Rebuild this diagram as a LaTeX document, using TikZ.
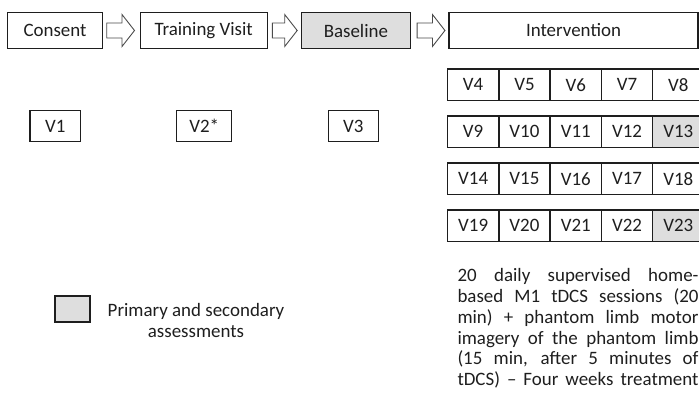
\documentclass[tikz,border=0pt]{standalone}
\usepackage{fontspec}
\setmainfont{Carlito}
\usetikzlibrary{calc}
\definecolor{assess}{RGB}{222,222,222}
\definecolor{ink}{RGB}{30,30,30}
\begin{document}
\begin{tikzpicture}[x=1bp,y=-1bp,
  every node/.style={font=\fontsize{19}{21}\selectfont, text=ink},
  phase/.style={draw=ink, line width=1.1bp, minimum height=35.6bp, inner sep=0pt},
  visit/.style={draw=ink, line width=1.1bp, minimum height=31bp, inner sep=0pt},
  cell/.style={draw=ink, line width=1.4bp, minimum width=51.3bp, minimum height=31.5bp, inner sep=0pt},
  shaded/.style={fill=assess},
  blockarrow/.style={draw=ink!80, line width=0.9bp, fill=white, line join=miter}
]
\useasboundingbox (0,0) rectangle (699,399);

% phase boxes
\node[phase, minimum width=95.4bp] (consent) at (55,30.5) {Consent};
\node[phase, minimum width=127.3bp] (training) at (203.7,30.5) {Training Visit};
\node[phase, shaded, minimum width=108.3bp] (baseline) at (355.9,30.5) {Baseline};
\node[phase, minimum width=249bp] (interv) at (573.5,30.5) {Intervention};

% block arrows
\newcommand\hollowarrow[2]{%
  \draw[blockarrow] ($(#1)+(0,-7.5)$) -- ($(#2)+(-12.5,-7.5)$) -- ($(#2)+(-12.5,-16)$)
    -- (#2) -- ($(#2)+(-12.5,16)$) -- ($(#2)+(-12.5,7.5)$) -- ($(#1)+(0,7.5)$) -- cycle;}
\coordinate (a1s) at ($(consent.east)+(3.5,0)$);
\coordinate (a1t) at ($(training.west)+(-5,0)$);
\coordinate (a2s) at ($(training.east)+(4.5,0)$);
\coordinate (a2t) at ($(baseline.west)+(-4,0)$);
\coordinate (a3s) at ($(baseline.east)+(6.5,0)$);
\coordinate (a3t) at ($(interv.west)+(-3.5,0)$);
\hollowarrow{a1s}{a1t}
\hollowarrow{a2s}{a2t}
\hollowarrow{a3s}{a3t}

% visits
\node[visit, minimum width=50.7bp] (v1) at (55.3,126.2) {V1};
\node[visit, minimum width=55bp] (v2) at (204.2,126.2) {V2*};
\node[visit, minimum width=50bp] (v3) at (353.3,126.2) {V3};

% intervention grid
\foreach \r/\y in {0/84.75,1/131.75,2/178.75,3/225.75}{
  \foreach \c in {0,...,4}{
    \pgfmathtruncatemacro\num{4+5*\r+\c}
    \pgfmathsetmacro\xx{473.15+51.3*\c}
    \ifnum\num=13 \def\fillopt{shaded}\else\ifnum\num=23 \def\fillopt{shaded}\else\def\fillopt{}\fi\fi
    \node[cell, \fillopt] (c\num) at (\xx,\y) {V\num};
  }
}

% description
\node[anchor=north west, inner sep=0pt, align=left, font=\fontsize{19}{20.8}\selectfont] (desc) at (457.3,268.5) {%
\makebox[241bp][s]{20 daily supervised home-}\\
\makebox[241bp][s]{based M1 tDCS sessions (20}\\
\makebox[241bp][s]{min) + phantom limb motor}\\
\makebox[241bp][s]{imagery of the phantom limb}\\
\makebox[241bp][s]{(15 min, after 5 minutes of}\\
\makebox[241bp][s]{tDCS) – Four weeks treatment}};

% legend
\node[draw=ink, line width=1.1bp, fill=assess, minimum width=35bp, minimum height=26bp, inner sep=0pt] (legbox) at (72.5,309) {};
\node[anchor=north, inner sep=0pt, align=center, font=\fontsize{19}{21}\selectfont] (legtext) at (196,303.5) {Primary and secondary\\assessments};
\end{tikzpicture}
\end{document}
